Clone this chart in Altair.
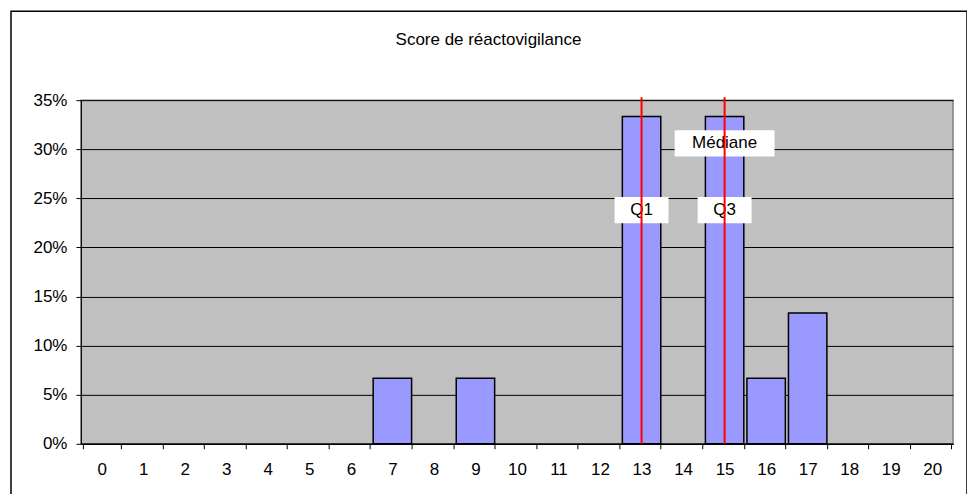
import altair as alt
import pandas as pd

# Data
scores = [str(i) for i in range(21)]
share = [0, 0, 0, 0, 0, 0, 0, 0.0667, 0, 0.0667, 0, 0, 0, 0.3333, 0,
         0.3333, 0.0667, 0.1333, 0, 0, 0]

marker_scores = ["13", "15"]

label_text = ["Q1", "Q3", "Médiane"]
label_score = ["13", "15", "15"]
label_level = [0.238, 0.238, 0.306]

title_text = "Score de réactovigilance"

W, H = 873, 344
FONT = "Liberation Sans"
FS = 17

bars_df = pd.DataFrame({"score": scores, "share": share})
bars_df = bars_df[bars_df["share"] > 0]
lines_df = pd.DataFrame({"score": marker_scores})
labels_df = pd.DataFrame({"text": label_text, "score": label_score, "level": label_level})

xscale = alt.Scale(domain=scores, paddingInner=0.075, paddingOuter=0.0375)
yscale = alt.Scale(domain=[0, 0.35])

xaxis = alt.Axis(title=None, labelAngle=0, tickBand="extent", grid=False,
                 domainColor="black", domainWidth=1.5, tickColor="black",
                 tickSize=5, labelPadding=13, labelFont=FONT, labelFontSize=FS,
                 labelColor="black")
yaxis = alt.Axis(title=None, format=".0%", values=[0, 0.05, 0.1, 0.15, 0.2, 0.25, 0.3, 0.35],
                 grid=True, gridColor="black", gridWidth=1, domainColor="black",
                 tickColor="black", tickSize=5, labelPadding=9, labelFont=FONT,
                 labelFontSize=FS, labelColor="black")

bars = alt.Chart(bars_df).mark_bar(color="#9999FF", stroke="black", strokeWidth=1.5).encode(
    x=alt.X("score:N", scale=xscale, axis=xaxis, sort=scores),
    y=alt.Y("share:Q", scale=yscale, axis=yaxis),
)

rules = alt.Chart(lines_df).mark_rule(color="red", strokeWidth=2).encode(
    x=alt.X("score:N", scale=xscale, sort=scores),
    y=alt.value(-3),
    y2=alt.value(H),
)

def label_layer(name, box_w):
    d = labels_df[labels_df["text"] == name]
    base = alt.Chart(d).transform_calculate(lo="datum.level - 0.0133", hi="datum.level + 0.0133")
    box = base.mark_bar(color="white", width=box_w).encode(
        x=alt.X("score:N", scale=xscale, sort=scores),
        y=alt.Y("lo:Q", scale=yscale),
        y2="hi:Q",
    )
    txt = base.mark_text(font=FONT, fontSize=FS, color="black", baseline="middle").encode(
        x=alt.X("score:N", scale=xscale, sort=scores),
        y=alt.Y("level:Q", scale=yscale),
        text="text:N",
    )
    return box + txt

title = alt.Chart(pd.DataFrame({"t": [title_text]})).mark_text(
    font=FONT, fontSize=FS, color="black", baseline="middle", align="center"
).encode(x=alt.value(408), y=alt.value(-60), text="t:N")

border = alt.Chart(pd.DataFrame({"a": [0]})).mark_rect(
    fill=None, stroke="black", strokeWidth=1.5
).encode(x=alt.value(-70), x2=alt.value(887), y=alt.value(-89), y2=alt.value(410))

chart = alt.layer(
    bars,
    label_layer("Q1", 54), label_layer("Q3", 54), label_layer("Médiane", 100),
    rules, title, border,
).properties(
    width=W, height=H,
    autosize=alt.AutoSizeParams(type="none"),
    padding={"left": 73, "top": 92, "right": 14, "bottom": 50},
).configure(
    background="white",
    view=alt.ViewConfig(fill="#C0C0C0", stroke="#808080", strokeWidth=1.5),
)

chart.save("out.html", embed_options={"renderer": "svg", "actions": False})
